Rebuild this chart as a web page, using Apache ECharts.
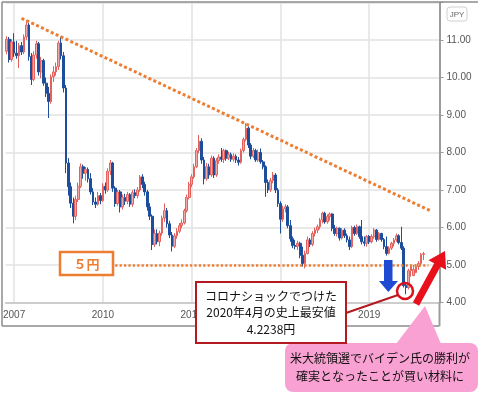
<!DOCTYPE html>
<html><head><meta charset="utf-8">
<script src="https://cdn.jsdelivr.net/npm/echarts@6/dist/echarts.min.js"></script>
<style>html,body{margin:0;padding:0;background:#fff}#c{width:478px;height:394px}</style>
</head><body><div id="c"></div>
<script>
// Monthly candles, Oct 2006 - Nov 2020 (JPY per unit)
const opens = [10.70,11.02,10.48,10.95,10.65,10.58,10.85,10.68,11.08,11.40,
 10.56,9.95,10.60,10.90,10.15,10.45,9.85,9.58,9.36,10.02,
 10.15,10.29,10.92,10.58,9.72,7.72,7.09,6.65,6.30,6.75,
 7.10,7.62,7.45,7.55,7.30,6.95,6.68,6.62,6.85,6.72,
 7.10,7.00,7.50,7.72,7.05,6.64,6.95,6.55,6.80,6.70,
 6.88,6.62,6.93,6.85,7.00,7.35,7.15,6.95,6.55,6.30,
 5.55,5.84,5.62,5.85,6.25,6.45,6.10,5.80,5.50,5.78,
 5.90,6.05,6.12,6.45,6.80,7.15,7.35,7.62,8.05,8.30,
 7.80,7.30,7.62,7.40,7.85,7.40,7.78,7.88,7.82,8.05,
 7.85,7.95,7.82,7.90,7.80,7.74,8.05,8.35,8.65,8.20,
 7.90,8.05,7.80,8.00,7.75,7.62,7.20,7.00,7.25,7.40,
 7.00,6.64,6.22,6.50,6.55,6.05,5.70,5.52,5.50,5.58,
 5.26,5.04,5.31,5.67,5.55,5.84,5.93,6.02,6.20,6.38,
 6.15,6.29,6.36,5.98,5.84,5.98,5.72,5.93,5.78,5.67,
 5.49,6.00,5.84,6.02,5.76,5.62,5.58,5.76,5.62,5.76,
 5.93,5.68,5.84,5.68,5.49,5.31,5.45,5.58,5.67,5.78,
 5.60,5.45,4.45,4.40,4.85,4.72,4.80,4.96,5.04,5.28];
const highs = [11.10,11.08,11.02,11.18,10.98,10.92,10.95,11.15,11.53,11.45,
 10.65,10.70,10.98,10.95,10.55,10.50,10.00,9.75,10.08,10.30,
 10.40,10.98,11.09,10.68,9.80,7.85,7.20,6.80,6.85,7.20,
 7.71,7.68,7.62,7.60,7.45,7.05,6.80,6.95,6.92,7.18,
 7.20,7.58,7.80,7.75,7.10,7.00,7.00,6.88,6.90,6.95,
 6.92,7.00,7.02,7.08,7.40,7.42,7.22,7.00,6.65,6.35,
 5.95,5.95,5.92,6.32,6.64,6.52,6.18,5.88,5.85,5.98,
 6.12,6.22,6.50,6.88,7.22,7.42,7.70,8.12,8.47,8.38,
 7.88,7.72,7.70,7.92,7.90,7.85,7.95,8.12,8.10,8.08,
 8.02,8.00,7.98,7.95,7.88,8.10,8.40,8.78,8.70,8.25,
 8.12,8.10,8.08,8.11,7.80,7.66,7.28,7.32,7.48,7.45,
 7.05,6.70,6.58,6.62,6.60,6.20,5.76,5.67,5.65,5.62,
 5.49,5.38,5.76,5.72,5.90,6.00,6.08,6.25,6.42,6.42,
 6.35,6.40,6.38,6.07,6.02,6.00,5.98,5.98,5.84,5.76,
 6.05,6.05,6.08,6.05,6.20,5.76,5.80,5.80,5.82,5.98,
 5.96,5.88,5.86,5.72,5.76,5.50,5.62,5.72,5.84,5.82,
 6.02,5.50,4.55,4.90,5.00,5.00,5.02,5.10,5.32,5.35];
const lows = [10.62,10.40,10.42,10.55,10.50,10.25,10.60,10.62,11.00,10.45,
 9.80,9.90,10.50,10.05,9.98,9.78,9.48,8.92,9.30,9.88,
 10.05,10.20,10.48,9.60,7.45,6.85,6.52,6.11,6.20,6.68,
 7.05,7.30,7.25,7.20,6.88,6.60,6.52,6.58,6.62,6.68,
 6.90,6.95,7.40,6.95,6.55,6.58,6.40,6.48,6.60,6.62,
 6.55,6.55,6.78,6.78,6.95,7.05,6.85,6.45,6.20,5.40,
 5.48,5.55,5.50,5.78,6.15,6.00,5.72,5.36,5.45,5.70,
 5.85,5.98,6.08,6.40,6.75,7.08,7.30,7.58,7.98,7.70,
 7.15,7.25,7.30,7.35,7.32,7.35,7.70,7.75,7.72,7.78,
 7.80,7.75,7.76,7.72,7.65,7.70,8.00,8.30,8.12,7.82,
 7.85,7.75,7.75,7.70,7.55,6.82,6.92,6.95,7.18,6.92,
 6.55,5.84,6.15,6.40,5.98,5.62,5.45,5.42,5.40,5.18,
 4.96,4.91,5.28,5.48,5.50,5.76,5.85,5.95,6.11,6.10,
 6.10,6.18,5.90,5.78,5.76,5.65,5.68,5.72,5.60,5.40,
 5.45,5.78,5.80,5.70,5.55,5.50,5.49,5.56,5.58,5.70,
 5.62,5.65,5.62,5.42,5.25,5.28,5.40,5.49,5.62,5.55,
 5.40,4.40,4.22,4.35,4.69,4.70,4.78,4.87,5.00,5.13];
const closes = [11.02,10.48,10.95,10.65,10.58,10.85,10.68,11.08,11.40,10.56,
 9.95,10.60,10.90,10.15,10.45,9.85,9.58,9.36,10.02,10.15,
 10.29,10.92,10.58,9.72,7.72,7.09,6.65,6.30,6.75,7.10,
 7.62,7.45,7.55,7.30,6.95,6.68,6.62,6.85,6.72,7.10,
 7.00,7.50,7.72,7.05,6.64,6.95,6.55,6.80,6.70,6.88,
 6.62,6.93,6.85,7.00,7.35,7.15,6.95,6.55,6.30,5.55,
 5.84,5.62,5.85,6.25,6.45,6.10,5.80,5.50,5.78,5.90,
 6.05,6.12,6.45,6.80,7.15,7.35,7.62,8.05,8.30,7.80,
 7.30,7.62,7.40,7.85,7.40,7.78,7.88,7.82,8.05,7.85,
 7.95,7.82,7.90,7.80,7.74,8.05,8.35,8.65,8.20,7.90,
 8.05,7.80,8.00,7.75,7.62,7.20,7.00,7.25,7.40,7.00,
 6.64,6.22,6.50,6.55,6.05,5.70,5.52,5.50,5.58,5.26,
 5.04,5.31,5.67,5.55,5.84,5.93,6.02,6.20,6.38,6.15,
 6.29,6.36,5.98,5.84,5.98,5.72,5.93,5.78,5.67,5.49,
 6.00,5.84,6.02,5.76,5.62,5.58,5.76,5.62,5.76,5.93,
 5.68,5.84,5.68,5.49,5.31,5.45,5.58,5.67,5.78,5.60,
 5.45,4.45,4.40,4.85,4.96,4.88,4.96,5.04,5.28,5.30];
const startYear = 2006, startMonth = 10, monthCount = 176; // axis runs a few empty months past the data
const yearTicks = ['2007-01','2010-01','2013-01','2016-01','2019-01'];
const yMin = 4, yMax = 12, yStep = 1;
const trendLine = [['2007-04', 11.58], ['2021-02', 6.44]];
const fiveYenLine = [['2010-06', 5.0], ['2021-01', 5.0]];

const months = [];
for (let k = 0; k < monthCount; k++) {
  const m = startMonth - 1 + k;
  const y = startYear + Math.floor(m / 12);
  months.push(y + '-' + String(m % 12 + 1).padStart(2, '0'));
}
const candles = opens.map((o, i) => [o, closes[i], lows[i], highs[i]]);
const isYearTick = (idx, val) => yearTicks.indexOf(val) >= 0;

const JP = '"Noto Sans CJK JP", sans-serif';
const chart = echarts.init(document.getElementById('c'));
chart.setOption({
  animation: false,
  backgroundColor: '#ffffff',
  grid: {left: 1.26, right: 38.5, top: 2.5, bottom: 91.5},
  xAxis: {
    type: 'category', data: months, boundaryGap: true,
    axisLine: {lineStyle: {color: '#c4c4c4', width: 1.5}},
    axisTick: {interval: isYearTick, alignWithLabel: true, length: 4, lineStyle: {color: '#b0b0b0'}},
    axisLabel: {interval: isYearTick, formatter: v => v.slice(0, 4), color: '#555', fontSize: 10,
      fontFamily: 'Liberation Sans', margin: 8},
    splitLine: {show: true, interval: isYearTick, alignWithLabel: true, lineStyle: {color: '#e2e2e2', width: 1.5}}
  },
  yAxis: {
    type: 'value', position: 'right', min: yMin, max: yMax, interval: yStep, scale: true,
    axisLine: {show: true, lineStyle: {color: '#9c9c9c', width: 2}},
    axisTick: {show: true, length: 4, lineStyle: {color: '#9c9c9c'}},
    axisLabel: {formatter: v => (v >= yMax ? '' : v.toFixed(2)), color: '#555', fontSize: 10,
      fontFamily: 'Liberation Sans', margin: 7},
    splitLine: {show: true, lineStyle: {color: '#e2e2e2', width: 1.5}}
  },
  series: [{
    type: 'candlestick', data: candles, barWidth: 2.2,
    itemStyle: {color: '#f6aaa8', color0: '#1c4e9c', borderColor: '#e4615d', borderColor0: '#1c4e9c', borderWidth: 1},
    markLine: {
      silent: true, symbol: 'none', animation: false, label: {show: false},
      data: [
        [{coord: trendLine[0], lineStyle: {color: '#ED7D31', width: 3, type: [3, 2.4], cap: 'butt'}}, {coord: trendLine[1]}],
        [{coord: fiveYenLine[0], lineStyle: {color: '#ED7D31', width: 2.5, type: [2.2, 2.2], cap: 'butt'}}, {coord: fiveYenLine[1]}]
      ]
    }
  }],
  graphic: [
    {type: 'line', z: 50, shape: {x1: 2, y1: 2, x2: 2, y2: 326}, style: {stroke: '#8c8c8c', lineWidth: 1.5}},
    {type: 'line', z: 50, shape: {x1: 2, y1: 2, x2: 478, y2: 2}, style: {stroke: '#8c8c8c', lineWidth: 1.5}},
    {type: 'line', z: 50, shape: {x1: 2, y1: 326, x2: 439.5, y2: 326}, style: {stroke: '#8c8c8c', lineWidth: 1.5}},
    {type: 'line', z: 50, shape: {x1: 439.5, y1: 302, x2: 439.5, y2: 326}, style: {stroke: '#9c9c9c', lineWidth: 2}},
    {type: 'rect', z: 60, shape: {x: 447, y: 7, width: 20, height: 14, r: 3}, style: {fill: '#fff', stroke: '#d0d0d0', lineWidth: 1}},
    {type: 'text', z: 61, style: {text: 'JPY', x: 457, y: 14.5, fill: '#666', font: '8px "Liberation Sans"', textAlign: 'center', textVerticalAlign: 'middle', align: 'center', verticalAlign: 'middle'}},
    // 5円 box
    {type: 'rect', z: 60, shape: {x: 60, y: 252, width: 53, height: 23}, style: {fill: '#fff', stroke: '#ED7D31', lineWidth: 2.5}},
    {type: 'text', z: 61, style: {text: '５円', x: 86.5, y: 264, fill: '#ED7D31', font: 'bold 13px ' + JP, textAlign: 'center', textVerticalAlign: 'middle', align: 'center', verticalAlign: 'middle'}},
    // blue down arrow
    {type: 'polygon', z: 60, shape: {points: [[384, 260], [392.5, 260], [392.5, 281], [398, 281], [388.3, 292], [379, 281], [384, 281]]}, style: {fill: '#1e4bd2'}},
    // red circle
    {type: 'circle', z: 60, shape: {cx: 405, cy: 291, r: 8}, style: {fill: 'none', stroke: '#d8121b', lineWidth: 2.5}},
    // pink callout
    {type: 'polygon', z: 62, shape: {points: [[396, 344], [425, 306], [441, 344]]}, style: {fill: '#f9a1d2'}},
    {type: 'rect', z: 62, shape: {x: 285, y: 343, width: 193, height: 49, r: 8}, style: {fill: '#f9a1d2'}},
    {type: 'text', z: 63, style: {text: '米大統領選でバイデン氏の勝利が', x: 380, y: 358, fill: '#111', font: '12px ' + JP, textAlign: 'center', textVerticalAlign: 'middle', align: 'center', verticalAlign: 'middle'}},
    {type: 'text', z: 63, style: {text: '確実となったことが買い材料に', x: 380, y: 376, fill: '#111', font: '12px ' + JP, textAlign: 'center', textVerticalAlign: 'middle', align: 'center', verticalAlign: 'middle'}},
    // red up arrow
    {type: 'polygon', z: 64, shape: {points: [[412.9, 302.3], [434.2, 263.3], [428.5, 260.2], [445, 251], [446.1, 269.8], [440.4, 266.7], [419.1, 305.7]]}, style: {fill: '#e8101a'}},
    // callout box
    {type: 'line', z: 64, shape: {x1: 346, y1: 313, x2: 398, y2: 295}, style: {stroke: '#b3191e', lineWidth: 2}},
    {type: 'rect', z: 65, shape: {x: 196, y: 282, width: 150, height: 61}, style: {fill: '#fff', stroke: '#b3191e', lineWidth: 2}},
    {type: 'text', z: 66, style: {text: 'コロナショックでつけた', x: 271, y: 296, fill: '#111', font: '12px ' + JP, textAlign: 'center', textVerticalAlign: 'middle', align: 'center', verticalAlign: 'middle'}},
    {type: 'text', z: 66, style: {text: '2020年4月の史上最安値', x: 271, y: 312, fill: '#111', font: '12px ' + JP, textAlign: 'center', textVerticalAlign: 'middle', align: 'center', verticalAlign: 'middle'}},
    {type: 'text', z: 66, style: {text: '4.2238円', x: 271, y: 329, fill: '#111', font: '12px ' + JP, textAlign: 'center', textVerticalAlign: 'middle', align: 'center', verticalAlign: 'middle'}}
  ]
});
</script>
</body></html>
